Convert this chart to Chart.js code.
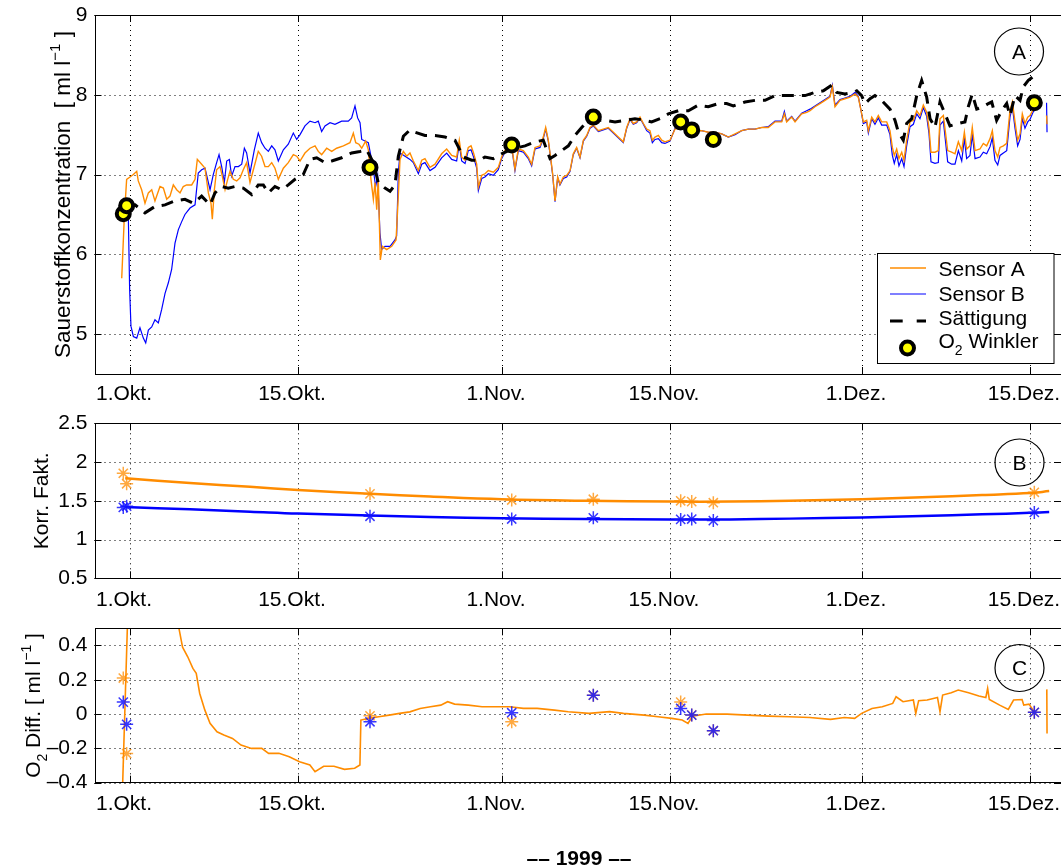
<!DOCTYPE html>
<html>
<head>
<meta charset="utf-8">
<script src="https://cdn.jsdelivr.net/npm/chart.js@4.4.0/dist/chart.umd.min.js"></script>
<style>
  body { margin: 0; background: #fff; width: 1061px; height: 867px; position: relative; overflow: hidden; }
  canvas { position: absolute; left: 0; }
</style>
</head>
<body>
<canvas id="chartA" width="1061" height="410" style="top:0px"></canvas>
<canvas id="chartB" width="1061" height="210" style="top:410px"></canvas>
<canvas id="chartC" width="1061" height="247" style="top:620px"></canvas>
<script>
// x values are days since 1 Oct 1999
const tickDays = [0, 14, 31, 45, 61, 75];
const tickLabels = ["1.Okt.", "15.Okt.", "1.Nov.", "15.Nov.", "1.Dez.", "15.Dez."];

// Panel A: oxygen concentration [ml/l]
const sensorA = [
  [-0.69,5.70],[-0.47,6.48],[-0.28,6.94],[0,6.97],[0.28,7.0],[0.56,7.04],[0.69,6.92],[0.97,6.81],[1.25,6.64],[1.53,6.77],
  [1.81,6.81],[2.08,6.67],[2.5,6.85],[2.78,6.83],[3.06,6.69],[3.33,6.73],[3.61,6.87],[3.89,6.81],[4.17,6.77],[4.44,6.85],
  [4.72,6.87],[5.14,6.87],[5.42,6.94],[5.61,7.19],[5.97,7.13],[6.25,7.08],[6.53,6.77],[6.75,6.64],[6.86,6.44],[7.03,6.81],
  [7.22,7.06],[7.5,7.10],[7.69,6.98],[7.92,6.81],[8.14,6.94],[8.33,7.04],[8.61,6.94],[8.89,6.92],[9.17,6.96],[9.44,7.06],
  [9.72,7.15],[10.0,6.90],[10.28,7.06],[10.69,7.29],[10.97,7.23],[11.25,7.10],[11.53,7.10],[11.81,7.15],[12.08,7.08],[12.36,6.94],
  [12.78,7.08],[13.19,7.15],[13.61,7.25],[13.89,7.23],[14.17,7.17],[14.58,7.27],[15.0,7.33],[15.42,7.36],[15.69,7.29],[15.97,7.25],
  [16.39,7.33],[16.81,7.29],[17.22,7.33],[17.78,7.36],[18.33,7.40],[18.61,7.52],[18.81,7.40],[19.08,7.38],[19.31,7.33],[19.64,7.42],
  [19.86,7.31],[20.08,6.94],[20.28,6.69],[20.42,6.90],[20.56,6.56],[20.69,6.94],[20.86,5.93],[21.03,6.10],[21.39,6.06],[21.81,6.10],
  [22.17,6.18],[22.36,6.73],[22.5,7.19],[22.78,7.29],[23.06,7.23],[23.33,7.27],[23.61,7.17],[24.03,7.05],[24.31,7.18],[24.58,7.20],
  [25.0,7.09],[25.42,7.13],[25.97,7.26],[26.39,7.32],[26.81,7.24],[27.22,7.22],[27.44,7.43],[27.64,7.22],[27.92,7.18],[28.19,7.34],
  [28.42,7.36],[28.61,7.28],[28.89,7.13],[29.03,6.84],[29.31,6.99],[29.58,7.01],[29.86,7.05],[30.28,7.03],[30.69,7.09],[30.97,7.22],
  [31.39,7.34],[31.81,7.36],[32.08,7.07],[32.36,7.32],[32.78,7.30],[33.19,7.22],[33.47,7.13],[33.75,7.34],[34.17,7.36],[34.44,7.47],
  [34.64,7.59],[34.86,7.43],[35.08,7.18],[35.22,7.01],[35.42,6.67],[35.64,6.97],[35.83,6.88],[36.11,6.97],[36.39,6.99],[36.67,7.05],
  [36.94,7.26],[37.22,7.34],[37.5,7.22],[37.78,7.43],[38.06,7.49],[38.33,7.59],[38.61,7.62],[39.03,7.55],[39.44,7.57],[39.86,7.59],
  [40.28,7.53],[40.69,7.47],[41.11,7.41],[41.39,7.59],[41.67,7.70],[41.94,7.64],[42.22,7.66],[42.5,7.72],[42.78,7.64],[43.06,7.57],
  [43.33,7.55],[43.53,7.43],[43.75,7.47],[44.03,7.49],[44.31,7.43],[44.58,7.41],[45.0,7.43],[45.42,7.57],[45.97,7.59],[46.53,7.57],
  [47.08,7.55],[47.64,7.55],[48.19,7.53],[48.75,7.53],[49.31,7.51],[49.86,7.47],[50.42,7.51],[50.97,7.55],[51.53,7.57],[52.08,7.57],
  [52.64,7.59],[53.19,7.59],[53.75,7.66],[54.31,7.66],[54.53,7.76],[54.72,7.66],[55.14,7.72],[55.42,7.66],[55.97,7.76],[56.39,7.78],
  [56.67,7.80],[57.08,7.85],[57.5,7.89],[57.92,7.93],[58.33,7.97],[58.53,8.10],[58.75,7.85],[59.17,7.93],[59.58,7.95],[60.0,7.97],
  [60.42,8.01],[60.69,7.97],[60.92,7.80],[61.11,7.66],[61.39,7.68],[61.53,7.55],[61.81,7.72],[62.08,7.66],[62.36,7.74],[62.64,7.66],
  [63.06,7.66],[63.33,7.55],[63.53,7.34],[63.69,7.24],[63.89,7.32],[64.08,7.20],[64.31,7.28],[64.5,7.18],[64.72,7.43],[65.0,7.66],
  [65.28,7.68],[65.56,7.80],[65.83,7.74],[66.11,7.87],[66.39,7.78],[66.58,7.59],[66.75,7.28],[67.08,7.28],[67.36,7.30],[67.5,7.70],
  [67.78,7.74],[67.97,7.51],[68.14,7.30],[68.47,7.28],[68.75,7.26],[69.03,7.41],[69.31,7.30],[69.53,7.53],[69.72,7.32],[70.0,7.36],
  [70.19,7.59],[70.42,7.30],[70.83,7.32],[71.11,7.39],[71.39,7.36],[71.67,7.45],[71.86,7.55],[72.08,7.30],[72.31,7.22],[72.5,7.34],
  [72.78,7.36],[73.06,7.39],[73.33,7.80],[73.53,7.91],[73.75,7.66],[73.97,7.43],[74.17,7.51],[74.36,7.76],[74.58,7.64],[74.81,7.72],
  [75.0,7.74],[75.28,7.82],[75.56,7.87],[75.7,7.90],[75.75,null],[76.38,7.74],[76.42,7.63]
];
const sensorB = [
  [-0.42,6.58],[-0.14,6.48],[-0.03,5.56],[0.08,5.10],[0.28,4.97],[0.56,4.95],[0.83,5.08],[1.11,4.95],[1.31,4.89],[1.53,5.05],
  [1.81,5.09],[2.08,5.18],[2.36,5.14],[2.64,5.31],[2.92,5.51],[3.19,5.64],[3.47,5.81],[3.75,6.14],[4.03,6.31],[4.31,6.41],
  [4.58,6.50],[5.0,6.58],[5.42,6.62],[5.69,7.02],[5.97,7.06],[6.25,7.08],[6.67,6.81],[6.94,7.0],[7.22,7.15],[7.42,7.25],
  [7.64,7.10],[7.86,6.90],[8.06,7.17],[8.28,7.19],[8.47,6.98],[8.75,7.10],[9.03,7.10],[9.31,7.13],[9.53,7.33],[9.72,7.27],
  [10.0,7.02],[10.36,7.31],[10.69,7.52],[10.97,7.40],[11.25,7.33],[11.53,7.29],[11.81,7.36],[12.08,7.31],[12.36,7.17],[12.78,7.31],
  [13.19,7.38],[13.61,7.52],[13.89,7.44],[14.17,7.50],[14.58,7.61],[15.0,7.67],[15.42,7.65],[15.69,7.67],[15.97,7.54],[16.25,7.61],
  [16.67,7.65],[17.08,7.63],[17.64,7.67],[18.19,7.67],[18.47,7.71],[18.75,7.86],[18.97,7.71],[19.17,7.65],[19.31,7.44],[19.58,7.42],
  [19.86,7.40],[20.08,7.23],[20.28,7.06],[20.47,6.85],[20.64,6.98],[20.83,6.27],[20.97,6.06],[21.25,6.10],[21.67,6.10],[22.08,6.18],
  [22.22,6.23],[22.36,7.02],[22.5,7.27],[22.92,7.23],[23.33,7.19],[23.61,7.15],[24.03,7.01],[24.31,7.13],[24.58,7.15],[25.0,7.05],
  [25.42,7.09],[25.97,7.21],[26.39,7.27],[26.81,7.19],[27.22,7.17],[27.44,7.38],[27.64,7.17],[27.92,7.14],[28.19,7.30],[28.42,7.31],
  [28.61,7.23],[28.89,7.08],[29.03,6.80],[29.31,6.95],[29.58,6.97],[29.86,7.01],[30.28,6.99],[30.69,7.06],[30.97,7.20],[31.39,7.32],
  [31.81,7.34],[32.08,7.05],[32.36,7.30],[32.78,7.28],[33.19,7.20],[33.47,7.11],[33.75,7.32],[34.17,7.34],[34.44,7.45],[34.64,7.57],
  [34.86,7.42],[35.08,7.17],[35.22,7.00],[35.42,6.66],[35.64,6.96],[35.83,6.87],[36.11,6.95],[36.39,6.97],[36.67,7.04],[36.94,7.25],
  [37.22,7.33],[37.5,7.21],[37.78,7.42],[38.06,7.48],[38.33,7.58],[38.61,7.61],[39.03,7.54],[39.44,7.56],[39.86,7.58],[40.28,7.52],
  [40.69,7.46],[41.11,7.40],[41.39,7.58],[41.67,7.69],[41.94,7.63],[42.22,7.65],[42.5,7.71],[42.78,7.63],[43.06,7.55],[43.33,7.52],
  [43.53,7.40],[43.75,7.44],[44.03,7.45],[44.31,7.40],[44.58,7.39],[45.0,7.42],[45.42,7.58],[45.97,7.60],[46.53,7.57],[47.08,7.55],
  [47.64,7.55],[48.19,7.53],[48.75,7.53],[49.31,7.51],[49.86,7.47],[50.42,7.50],[50.97,7.55],[51.53,7.57],[52.08,7.57],[52.64,7.59],
  [53.19,7.60],[53.75,7.67],[54.31,7.67],[54.53,7.79],[54.72,7.67],[55.14,7.73],[55.42,7.67],[55.97,7.77],[56.39,7.80],[56.67,7.82],
  [57.08,7.86],[57.5,7.90],[57.92,7.94],[58.33,7.98],[58.53,8.12],[58.75,7.87],[59.17,7.94],[59.58,7.96],[60.0,7.98],[60.42,8.03],
  [60.69,7.98],[60.92,7.80],[61.11,7.64],[61.39,7.66],[61.53,7.52],[61.81,7.70],[62.08,7.63],[62.36,7.71],[62.64,7.62],[63.06,7.62],
  [63.33,7.50],[63.53,7.24],[63.69,7.14],[63.89,7.25],[64.08,7.11],[64.31,7.20],[64.5,7.10],[64.72,7.36],[65.0,7.60],[65.28,7.63],
  [65.56,7.76],[65.83,7.70],[66.11,7.84],[66.39,7.73],[66.58,7.52],[66.75,7.16],[67.08,7.14],[67.36,7.15],[67.5,7.62],[67.78,7.67],
  [67.97,7.40],[68.14,7.16],[68.47,7.13],[68.75,7.13],[69.03,7.30],[69.31,7.17],[69.53,7.45],[69.72,7.20],[70.0,7.24],[70.19,7.50],
  [70.42,7.20],[70.83,7.22],[71.11,7.28],[71.39,7.26],[71.67,7.35],[71.86,7.46],[72.08,7.18],[72.31,7.12],[72.5,7.24],[72.78,7.27],
  [73.06,7.30],[73.33,7.72],[73.53,7.85],[73.75,7.58],[73.97,7.36],[74.17,7.44],[74.36,7.70],[74.58,7.58],[74.81,7.66],[75.0,7.69],
  [75.28,7.79],[75.56,7.85],[75.7,7.89],[75.75,null],[76.38,7.90],[76.42,7.53]
];
const saettigung = [
  [-0.3,6.62],[-0.14,6.62],[0.42,6.62],[1.25,6.52],[2.08,6.60],[2.92,6.62],[3.75,6.67],[4.58,6.69],[5.28,6.64],[5.97,6.73],
  [6.67,6.62],[7.08,6.77],[7.64,6.85],[8.19,6.83],[8.75,6.85],[9.44,6.83],[10.14,6.75],[10.69,6.87],[11.11,6.87],[11.53,6.77],
  [12.08,6.85],[12.64,6.81],[13.19,6.87],[13.75,6.94],[14.44,7.0],[15.0,7.19],[15.56,7.21],[16.25,7.15],[16.81,7.17],[17.64,7.21],
  [18.47,7.27],[19.17,7.29],[19.72,7.31],[20.28,7.15],[20.69,6.90],[21.25,6.83],[21.67,6.79],[22.08,6.87],[22.36,7.23],[22.78,7.48],
  [23.33,7.56],[23.75,7.53],[24.58,7.49],[25.42,7.49],[26.25,7.47],[27.08,7.43],[27.78,7.22],[28.47,7.18],[29.17,7.18],[29.58,7.22],
  [30.28,7.20],[30.97,7.26],[31.81,7.32],[32.92,7.36],[33.75,7.41],[34.44,7.43],[35.0,7.20],[35.42,7.24],[35.97,7.30],[36.53,7.36],
  [37.08,7.49],[37.64,7.59],[38.19,7.68],[38.89,7.68],[39.58,7.68],[40.42,7.66],[41.25,7.68],[42.08,7.70],[42.92,7.68],[43.47,7.66],
  [44.17,7.70],[44.86,7.76],[45.69,7.80],[46.53,7.80],[47.36,7.87],[48.19,7.85],[49.03,7.89],[49.72,7.89],[50.28,7.86],[51.25,7.91],
  [52.08,7.93],[52.92,7.93],[53.75,7.99],[54.58,7.99],[55.42,7.99],[56.25,7.99],[57.08,8.03],[57.78,8.05],[58.47,8.12],[58.89,8.03],
  [59.58,8.01],[60.28,8.03],[60.56,8.05],[60.97,7.99],[61.25,7.89],[61.67,7.95],[62.08,7.99],[62.64,7.93],[63.33,7.82],[63.75,7.68],
  [64.03,7.53],[64.44,7.43],[64.72,7.64],[65.14,7.70],[65.56,7.99],[65.97,8.18],[66.39,7.97],[66.67,7.70],[67.08,7.59],[67.5,7.91],
  [67.92,7.76],[68.33,7.61],[69.03,7.64],[69.58,7.66],[69.86,7.85],[70.19,8.01],[70.56,7.82],[71.11,7.85],[71.53,7.89],[71.81,7.91],
  [72.22,7.68],[72.64,7.80],[73.06,7.89],[73.33,7.74],[73.75,7.99],[74.17,7.93],[74.44,8.10],[74.86,8.18],[75.2,8.22]
];

// Winkler samples (same dates used in panels B and C)
const winklerDays = [-0.56, -0.28, 20.0, 31.81, 38.61, 45.89, 46.81, 48.61, 75.36];
const winklerO2   = [6.51, 6.61, 7.09, 7.37, 7.72, 7.66, 7.56, 7.44, 7.90];

// Panel B: correction factors
const korrA = [1.855, 1.72, 1.59, 1.51, 1.52, 1.50, 1.49, 1.475, 1.61];
const korrB = [1.415, 1.43, 1.30, 1.265, 1.28, 1.26, 1.265, 1.245, 1.35];
const korrFitA = [[-0.4,1.79],[5,1.73],[10,1.68],[14,1.64],[20,1.59],[25,1.555],[31,1.52],[38,1.50],[45,1.49],[50,1.49],
  [55,1.50],[61,1.52],[66,1.545],[71,1.575],[75,1.60],[76.6,1.625]];
const korrFitB = [[-0.4,1.42],[5,1.39],[10,1.36],[14,1.335],[20,1.31],[25,1.29],[31,1.275],[38,1.265],[45,1.26],[50,1.26],
  [55,1.27],[61,1.285],[66,1.305],[71,1.325],[75,1.345],[76.6,1.355]];

// Panel C: O2 difference
const diffA = [0.21, -0.23, -0.01, -0.045, 0.11, 0.07, -0.005, -0.097, 0.01];
const diffB = [0.07, -0.06, -0.045, 0.008, 0.11, 0.033, -0.006, -0.097, 0.01];
const diffLine = [
  [-0.63,-0.45],[-0.2,0.55],[-0.19,null],[3.95,0.6],[4.08,0.50],[4.38,0.39],[4.81,0.334],[5.24,0.266],[5.52,0.237],[5.81,0.12],
  [6.24,0.023],[6.67,-0.054],[7.25,-0.103],[7.82,-0.122],[8.54,-0.142],[9.25,-0.181],[10.12,-0.20],[10.98,-0.20],[11.55,-0.229],
  [12.41,-0.229],[13.27,-0.249],[14.13,-0.278],[14.99,-0.297],[15.42,-0.336],[16.14,-0.304],[17.0,-0.304],[17.87,-0.322],
  [18.72,-0.316],[19.16,-0.297],[19.24,-0.035],[19.87,-0.025],[20.73,-0.016],[21.6,-0.006],[22.46,0.004],[23.32,0.013],
  [24.18,0.033],[25.04,0.043],[25.9,0.052],[26.47,0.072],[27.05,0.058],[28.19,0.052],[29.34,0.043],[30.49,0.043],[31.64,0.043],
  [32.78,0.033],[33.93,0.033],[35.37,0.023],[36.52,0.014],[38.25,0.004],[39.97,0.014],[41.12,0.004],[42.85,-0.006],[44.0,-0.016],
  [45.15,-0.025],[46.01,-0.035],[46.5,-0.054],[46.87,-0.012],[48.02,0.0],[49.75,0.0],[51.47,-0.006],[53.2,-0.012],[54.93,-0.016],
  [56.66,-0.02],[58.38,-0.031],[59.53,-0.02],[60.39,-0.025],[60.97,0.004],[61.83,0.033],[62.69,0.043],[63.56,0.062],[63.84,0.101],
  [64.42,0.072],[65.28,0.082],[65.48,0.004],[65.72,0.078],[66.43,0.082],[67.29,0.097],[67.5,0.014],[67.72,0.111],[68.44,0.124],
  [69.02,0.14],[69.88,0.124],[70.74,0.105],[71.32,0.097],[71.47,0.15],[71.61,0.085],[72.47,0.052],[73.19,0.027],[73.63,0.082],
  [74.34,0.085],[74.48,0.052],[74.92,0.058],[75.34,0.014],[75.4,null],[76.4,0.144],[76.42,-0.113]
];

const FONT = '"Liberation Sans", Arial, Helvetica, sans-serif';
const ORANGE = "#ff8c00";
const BLUE = "#0000ff";
const LEFT = 94.5;
const X_MIN = (LEFT - 130) / 12;
const X_MAX = X_MIN + (1061 - LEFT) / 12;

Chart.defaults.font.family = FONT;
Chart.defaults.font.size = 21;
Chart.defaults.color = "#000";

const pts = arr => arr.map(p => ({ x: p[0], y: p[1] }));
const zipPts = (xs, ys) => xs.map((x, i) => ({ x, y: ys[i] }));

function noPad(s) {
  s.paddingLeft = 0; s.paddingRight = 0; s.paddingTop = 0; s.paddingBottom = 0;
}

function xAxis(height, pad) {
  return {
    type: "linear", min: X_MIN, max: X_MAX,
    grid: { display: false, drawTicks: false }, border: { display: false },
    afterBuildTicks: s => { s.ticks = tickDays.map(v => ({ value: v })); },
    afterFit: s => { s.height = height; noPad(s); },
    ticks: { autoSkip: false, maxRotation: 0, padding: pad, labelOffset: -6,
      callback: (v, i) => tickLabels[i] }
  };
}

function yAxis(min, max, ticks, labels) {
  return {
    type: "linear", min, max,
    grid: { display: false, drawTicks: false }, border: { display: false },
    afterBuildTicks: s => { s.ticks = ticks.map(v => ({ value: v })); },
    afterFit: s => { s.width = LEFT; noPad(s); },
    ticks: { padding: 7, callback: (v, i) => labels[i] }
  };
}

// rich text: parts = [{t, sub, sup}]
function drawRich(ctx, parts, x, y, angle, align, size) {
  const big = size || 21;
  const fontOf = p => (p.sub || p.sup ? Math.round(big * 0.67) : big) + "px " + FONT;
  ctx.save();
  ctx.translate(x, y);
  ctx.rotate(angle);
  ctx.textBaseline = "alphabetic";
  ctx.textAlign = "left";
  ctx.fillStyle = "#000";
  let w = 0;
  parts.forEach(p => { ctx.font = fontOf(p); w += ctx.measureText(p.t).width; });
  let cx = align === "left" ? 0 : -w / 2;
  const base = big * 0.357;
  parts.forEach(p => {
    ctx.font = fontOf(p);
    const dy = p.sub ? big * 0.29 : p.sup ? -big * 0.43 : 0;
    ctx.fillText(p.t, cx, base + dy);
    cx += ctx.measureText(p.t).width;
  });
  ctx.restore();
}

const framePlugin = {
  id: "frame",
  beforeDatasetsDraw(chart) {
    const { ctx, chartArea: a, scales: { x, y } } = chart;
    ctx.save();
    ctx.strokeStyle = "#000";
    ctx.lineWidth = 1;
    ctx.setLineDash([1, 4]);
    ctx.beginPath();
    x.ticks.forEach(t => {
      const px = Math.round(x.getPixelForValue(t.value)) + 0.5;
      ctx.moveTo(px, a.top); ctx.lineTo(px, a.bottom);
    });
    y.ticks.forEach(t => {
      const py = Math.round(y.getPixelForValue(t.value)) + 0.5;
      ctx.moveTo(a.left, py); ctx.lineTo(a.right, py);
    });
    ctx.stroke();
    ctx.restore();
  },
  afterDatasetsDraw(chart) {
    const { ctx, chartArea: a, scales: { x, y } } = chart;
    const L = 7;
    ctx.save();
    ctx.strokeStyle = "#000";
    ctx.lineWidth = 1;
    ctx.beginPath();
    x.ticks.forEach(t => {
      const px = Math.round(x.getPixelForValue(t.value)) + 0.5;
      ctx.moveTo(px, a.bottom); ctx.lineTo(px, a.bottom - L);
      ctx.moveTo(px, a.top); ctx.lineTo(px, a.top + L);
    });
    y.ticks.forEach(t => {
      const py = Math.round(y.getPixelForValue(t.value)) + 0.5;
      ctx.moveTo(a.left, py); ctx.lineTo(a.left + L, py);
      ctx.moveTo(a.right, py); ctx.lineTo(a.right - L, py);
    });
    ctx.stroke();
    ctx.strokeRect(Math.round(a.left) + 0.5, Math.round(a.top) + 0.5,
      Math.round(a.right - a.left) - 1, Math.round(a.bottom - a.top));
    ctx.restore();
  }
};

const decoPlugin = {
  id: "deco",
  afterDraw(chart, args, o) {
    const { ctx, chartArea: a } = chart;
    // y-axis title
    drawRich(ctx, o.title, o.titleX, (a.top + a.bottom) / 2, -Math.PI / 2, "center", o.titleSize);
    // panel letter in a circle
    ctx.save();
    ctx.strokeStyle = "#000";
    ctx.lineWidth = 1.2;
    ctx.beginPath();
    ctx.ellipse(o.letterX, o.letterY, 24.5, 23.5, 0, 0, Math.PI * 2);
    ctx.stroke();
    ctx.restore();
    drawRich(ctx, [{ t: o.letter }], o.letterX, o.letterY, 0);
    if (o.legend) drawLegend(ctx);
    if (o.year) {
      ctx.save();
      ctx.font = "bold 21px " + FONT;
      ctx.textAlign = "center";
      ctx.textBaseline = "alphabetic";
      ctx.fillStyle = "#000";
      ctx.fillText("\u2013\u2013 1999 \u2013\u2013", 579, o.year);
      ctx.restore();
    }
  }
};

function drawLegend(ctx) {
  ctx.save();
  ctx.fillStyle = "#fff";
  ctx.fillRect(877.5, 253.5, 176.5, 110);
  ctx.strokeStyle = "#000";
  ctx.lineWidth = 1;
  ctx.strokeRect(877.5, 253.5, 176.5, 110);
  const seg = (y, color, w, dash) => {
    ctx.beginPath();
    ctx.setLineDash(dash);
    ctx.strokeStyle = color;
    ctx.lineWidth = w;
    ctx.moveTo(890, y); ctx.lineTo(926, y);
    ctx.stroke();
  };
  seg(268, ORANGE, 1.5, []);
  seg(294, BLUE, 1.2, []);
  seg(321, "#000", 3, [12.7, 14]);
  ctx.setLineDash([]);
  ctx.beginPath();
  ctx.arc(907.5, 348, 6.5, 0, Math.PI * 2);
  ctx.fillStyle = "#ffff00";
  ctx.fill();
  ctx.lineWidth = 4;
  ctx.strokeStyle = "#000";
  ctx.stroke();
  ctx.restore();
  drawRich(ctx, [{ t: "Sensor A" }], 938.5, 268.5, 0, "left");
  drawRich(ctx, [{ t: "Sensor B" }], 938.5, 294, 0, "left");
  drawRich(ctx, [{ t: "S\u00e4ttigung" }], 938.5, 317.5, 0, "left");
  drawRich(ctx, [{ t: "O" }, { t: "2", sub: true }, { t: " Winkler" }], 938.5, 341, 0, "left");
}

const common = {
  responsive: false,
  animation: false,
  devicePixelRatio: 1,
  events: [],
  plugins: { legend: { display: false }, tooltip: { enabled: false } }
};

// Panel A
new Chart(document.getElementById("chartA"), {
  type: "line",
  data: {
    datasets: [
      { data: zipPts(winklerDays, winklerO2), showLine: false, pointRadius: 6.5, pointBorderWidth: 4,
        pointBackgroundColor: "#ffff00", pointBorderColor: "#000" },
      { data: pts(saettigung), borderColor: "#000", borderWidth: 3, borderDash: [12, 8], pointRadius: 0, spanGaps: false },
      { data: pts(sensorA), borderColor: ORANGE, borderWidth: 1.4, pointRadius: 0, spanGaps: false },
      { data: pts(sensorB), borderColor: BLUE, borderWidth: 1.2, pointRadius: 0, spanGaps: false }
    ]
  },
  options: {
    ...common,
    layout: { autoPadding: false, padding: { top: 15, left: 0, right: 0, bottom: 0 } },
    scales: {
      x: xAxis(36, 8),
      y: yAxis(4.5, 9, [5, 6, 7, 8, 9], ["5", "6", "7", "8", "9"])
    },
    plugins: {
      ...common.plugins,
      deco: {
        title: [{ t: "Sauerstoffkonzentration  [ ml l" }, { t: "\u22121", sup: true }, { t: " ]" }],
        titleX: 62, titleSize: 22.5, letter: "A", letterX: 1019, letterY: 51.5, legend: true
      }
    }
  },
  plugins: [framePlugin, decoPlugin]
});

// Panel B
new Chart(document.getElementById("chartB"), {
  type: "line",
  data: {
    datasets: [
      { data: zipPts(winklerDays, korrB), showLine: false, pointStyle: "star", pointRadius: 6.5,
        pointBorderWidth: 1.5, pointBorderColor: "rgba(20,20,255,0.85)" },
      { data: zipPts(winklerDays, korrA), showLine: false, pointStyle: "star", pointRadius: 6.5,
        pointBorderWidth: 1.5, pointBorderColor: "rgba(255,140,0,0.75)" },
      { data: pts(korrFitA), borderColor: ORANGE, borderWidth: 2.5, pointRadius: 0, tension: 0.4 },
      { data: pts(korrFitB), borderColor: BLUE, borderWidth: 2.5, pointRadius: 0, tension: 0.4 }
    ]
  },
  options: {
    ...common,
    layout: { autoPadding: false, padding: { top: 13.3, left: 0, right: 0, bottom: 0 } },
    scales: {
      x: xAxis(41.7, 9.5),
      y: yAxis(0.5, 2.5, [0.5, 1, 1.5, 2, 2.5], ["0.5", "1", "1.5", "2", "2.5"])
    },
    plugins: {
      ...common.plugins,
      deco: { title: [{ t: "Korr. Fakt." }], titleX: 40.5, letter: "B", letterX: 1019.5, letterY: 52.5 }
    }
  },
  plugins: [framePlugin, decoPlugin]
});

// Panel C
new Chart(document.getElementById("chartC"), {
  type: "line",
  data: {
    datasets: [
      { data: zipPts(winklerDays, diffB), showLine: false, pointStyle: "star", pointRadius: 6.5,
        pointBorderWidth: 1.5, pointBorderColor: "rgba(20,20,255,0.85)" },
      { data: zipPts(winklerDays, diffA), showLine: false, pointStyle: "star", pointRadius: 6.5,
        pointBorderWidth: 1.5, pointBorderColor: "rgba(255,140,0,0.75)" },
      { data: pts(diffLine), borderColor: ORANGE, borderWidth: 1.6, pointRadius: 0, spanGaps: false }
    ]
  },
  options: {
    ...common,
    layout: { autoPadding: false, padding: { top: 8.3, left: 0, right: 0, bottom: 0 } },
    scales: {
      x: xAxis(84.3, 9),
      y: yAxis(-0.4, 0.5, [-0.4, -0.2, 0, 0.2, 0.4], ["\u20130.4", "\u20130.2", "0", "0.2", "0.4"])
    },
    plugins: {
      ...common.plugins,
      deco: {
        title: [{ t: "O" }, { t: "2", sub: true }, { t: " Diff. [ ml l" }, { t: "\u22121", sup: true }, { t: " ]" }],
        titleX: 33, letter: "C", letterX: 1019.5, letterY: 48, year: 237 + 7.5
      }
    }
  },
  plugins: [framePlugin, decoPlugin]
});
</script>
</body>
</html>
